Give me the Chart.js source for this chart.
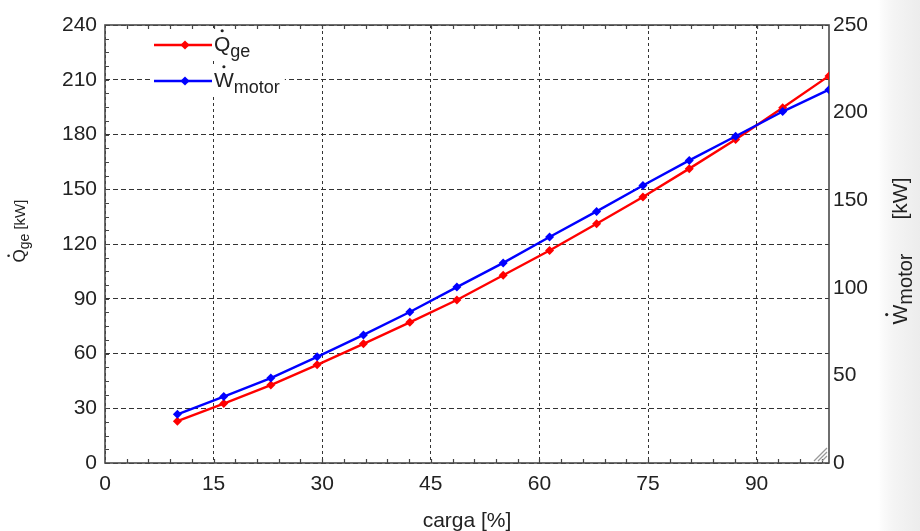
<!DOCTYPE html>
<html><head><meta charset="utf-8">
<script src="https://cdn.jsdelivr.net/npm/chart.js@4.4.1/dist/chart.umd.min.js"></script>
<style>html,body{margin:0;padding:0;background:#fff;overflow:hidden}#wrap{width:920px;height:531px;position:relative}</style>
</head><body><div id="wrap"><canvas id="c" width="920" height="531"></canvas></div>
<script>
const carga = [10, 16.4, 22.9, 29.3, 35.7, 42.1, 48.6, 55, 61.4, 67.9, 74.3, 80.7, 87.1, 93.6, 100];
const qGe = [22.9, 32.6, 42.7, 53.8, 65.3, 77.1, 89.3, 102.9, 116.4, 131.1, 145.8, 161.3, 177.3, 194.6, 212.1];
const wMotor = [27.8, 37.9, 48.5, 60.6, 73.1, 86.2, 100.4, 114.2, 129.0, 143.6, 158.4, 172.7, 186.5, 200.6, 213.1];
const xTicks = [0, 15, 30, 45, 60, 75, 90];
const yLeftTicks = [0, 30, 60, 90, 120, 150, 180, 210, 240];
const yRightTicks = [0, 50, 100, 150, 200, 250];
const seriesMain = ['Q', 'W'];
const seriesSub = ['ge', 'motor'];
const seriesColor = ['#ff0000', '#0000ff'];
const xTitle = 'carga [%]';
const unitText = '[kW]';

const FONT = "'Liberation Sans', Arial, sans-serif";

function drawRich(ctx, parts, x0, y0) {
  let x = x0;
  for (const p of parts) {
    if (p.gap) { x += p.gap; continue; }
    ctx.font = p.size + 'px ' + FONT;
    const w = ctx.measureText(p.text).width;
    ctx.fillText(p.text, x, y0 + p.dy);
    if (p.dot) {
      ctx.beginPath();
      ctx.arc(x + w / 2, y0 + p.dy - p.size * 0.716 - p.size * 0.25, p.size * 0.075, 0, Math.PI * 2);
      ctx.fill();
    }
    x += w;
  }
  return x;
}
function richWidth(ctx, parts) {
  let w = 0;
  for (const p of parts) {
    if (p.gap) { w += p.gap; continue; }
    ctx.font = p.size + 'px ' + FONT; w += ctx.measureText(p.text).width;
  }
  return w;
}

const decorPlugin = {
  id: 'decor',
  beforeDraw(chart) {
    const ctx = chart.ctx;
    ctx.save();
    ctx.fillStyle = '#fff';
    ctx.fillRect(0, 0, chart.width, chart.height);
    const g = ctx.createLinearGradient(878, 0, 920, 0);
    g.addColorStop(0, 'rgba(240,240,240,0)');
    g.addColorStop(0.4, '#f4f4f4');
    g.addColorStop(1, '#ececec');
    ctx.fillStyle = g;
    ctx.fillRect(878, 0, 42, chart.height);
    ctx.restore();
  },
  beforeDatasetsDraw(chart) {
    const ctx = chart.ctx, a = chart.chartArea;
    const sx = chart.scales.x, sy = chart.scales.y;
    ctx.save();
    ctx.strokeStyle = '#444';
    ctx.lineWidth = 1.2;
    ctx.beginPath();
    for (let v = 3; v < 100; v += 3) {
      const px = Math.round(sx.getPixelForValue(v)) + 0.5;
      ctx.moveTo(px, a.bottom); ctx.lineTo(px, a.bottom - 4);
      ctx.moveTo(px, a.top); ctx.lineTo(px, a.top + 4);
    }
    for (let v = 7.5; v < 240; v += 7.5) {
      const py = Math.round(sy.getPixelForValue(v)) + 0.5;
      ctx.moveTo(a.left, py); ctx.lineTo(a.left + 4, py);
    }
    ctx.stroke();
    ctx.strokeStyle = '#4a4a4a';
    ctx.lineWidth = 1.6;
    ctx.strokeRect(a.left, a.top, a.right - a.left, a.bottom - a.top);
    ctx.strokeStyle = '#999';
    ctx.lineWidth = 1.3;
    ctx.beginPath();
    for (const k of [5, 9, 13]) {
      ctx.moveTo(a.right - 2 - k, a.bottom - 2);
      ctx.lineTo(a.right - 2, a.bottom - 2 - k);
    }
    ctx.stroke();
    ctx.restore();
  },
  afterDraw(chart) {
    const ctx = chart.ctx, a = chart.chartArea;
    ctx.save();
    ctx.textBaseline = 'alphabetic';
    for (let i = 0; i < 2; i++) {
      const y = a.top + 20 + i * 36;
      const parts = [{text: seriesMain[i], size: 21, dy: 0, dot: true}, {text: seriesSub[i], size: 18, dy: 6}];
      const tx = a.left + 109;
      const tw = richWidth(ctx, parts);
      ctx.fillStyle = '#fff';
      ctx.fillRect(a.left + 47, y - 16, tx + tw + 5 - (a.left + 47), 32);
      ctx.strokeStyle = seriesColor[i];
      ctx.lineWidth = 2.4;
      ctx.beginPath();
      ctx.moveTo(a.left + 49, y); ctx.lineTo(a.left + 107, y);
      ctx.stroke();
      ctx.fillStyle = seriesColor[i];
      const mx = a.left + 80, r = 4.6;
      ctx.beginPath();
      ctx.moveTo(mx, y - r); ctx.lineTo(mx + r, y); ctx.lineTo(mx, y + r); ctx.lineTo(mx - r, y); ctx.closePath();
      ctx.fill();
      ctx.fillStyle = '#222';
      drawRich(ctx, parts, tx, y + 6);
    }
    const lp = [{text: 'Q', size: 17, dy: 0, dot: true}, {text: 'ge', size: 14, dy: 4}, {gap: 4}, {text: unitText, size: 15, dy: 0}];
    ctx.save();
    ctx.translate(25, 231);
    ctx.rotate(-Math.PI / 2);
    drawRich(ctx, lp, -richWidth(ctx, lp) / 2, 0);
    ctx.restore();
    const rp = [{text: 'W', size: 21, dy: 0, dot: true}, {text: 'motor', size: 20, dy: 5}, {gap: 34}, {text: unitText, size: 21, dy: 0}];
    ctx.save();
    ctx.translate(907, 251);
    ctx.rotate(-Math.PI / 2);
    drawRich(ctx, rp, -richWidth(ctx, rp) / 2, 0);
    ctx.restore();
    ctx.restore();
  }
};

const tickFont = {family: FONT, size: 21};
new Chart(document.getElementById('c'), {
  type: 'line',
  data: {
    datasets: [
      {label: 'Wmotor', data: carga.map((x, i) => ({x, y: wMotor[i]})), yAxisID: 'y1',
       borderColor: seriesColor[1], backgroundColor: seriesColor[1], borderWidth: 2.4,
       pointStyle: 'rectRot', pointRadius: 4.5, pointBorderWidth: 0, tension: 0},
      {label: 'Qge', data: carga.map((x, i) => ({x, y: qGe[i]})), yAxisID: 'y',
       borderColor: seriesColor[0], backgroundColor: seriesColor[0], borderWidth: 2.4,
       pointStyle: 'rectRot', pointRadius: 4.5, pointBorderWidth: 0, tension: 0}
    ]
  },
  options: {
    responsive: false, animation: false, devicePixelRatio: 1,
    layout: {padding: {top: 25, left: 0, right: 0, bottom: 0}},
    plugins: {legend: {display: false}, tooltip: {enabled: false}},
    scales: {
      x: {type: 'linear', position: 'bottom', min: 0, max: 100,
          afterBuildTicks: s => { s.ticks = xTicks.map(v => ({value: v})); },
          afterFit: s => { s.height = 68; },
          grid: {color: '#333', lineWidth: 1, drawTicks: false},
          border: {display: false, dash: [3, 3]},
          ticks: {font: tickFont, color: '#222', padding: 9, maxRotation: 0},
          title: {display: true, text: xTitle, font: {family: FONT, size: 21}, color: '#222', padding: {top: 0, bottom: -3}}},
      y: {type: 'linear', position: 'left', min: 0, max: 240,
          afterBuildTicks: s => { s.ticks = yLeftTicks.map(v => ({value: v})); },
          afterFit: s => { s.width = 105; },
          grid: {color: '#333', lineWidth: 1, drawTicks: false},
          border: {display: false, dash: [5, 3]},
          ticks: {font: tickFont, color: '#222', padding: 8}},
      y1: {type: 'linear', position: 'right', min: 0, max: 250,
          afterBuildTicks: s => { s.ticks = yRightTicks.map(v => ({value: v})); },
          afterFit: s => { s.width = 91; },
          grid: {display: false, drawTicks: false},
          border: {display: false},
          ticks: {font: tickFont, color: '#222', padding: 4}}
    }
  },
  plugins: [decorPlugin]
});
</script></body></html>
